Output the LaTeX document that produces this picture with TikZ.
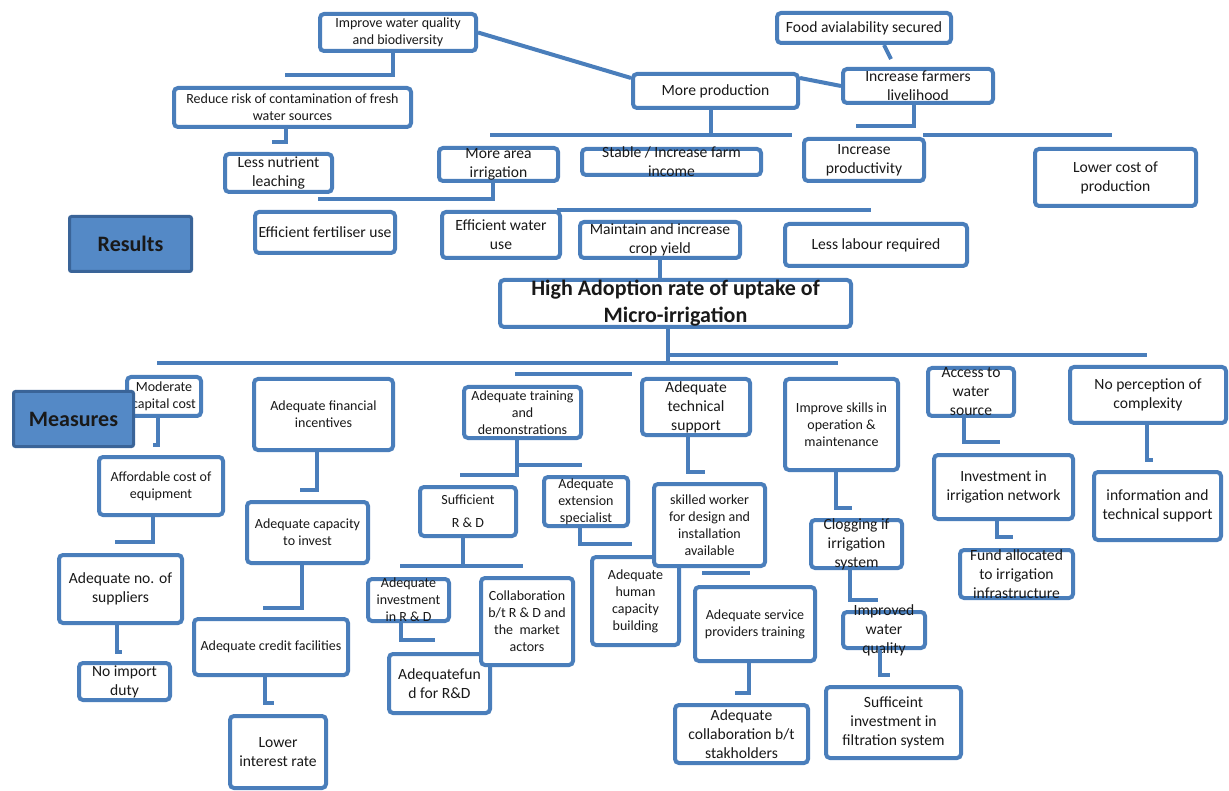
\documentclass[tikz,border=0pt]{standalone}
\usepackage{fontspec}
\setmainfont{Carlito}

\definecolor{bdr}{RGB}{74,126,187}
\definecolor{hdfill}{RGB}{84,137,198}
\definecolor{hddraw}{RGB}{58,100,152}
\definecolor{ink}{RGB}{25,25,25}

\newcommand\fsm{\fontsize{14}{17}\selectfont}
\newcommand\fmd{\fontsize{15.6}{19}\selectfont}
\newcommand\fbg{\bfseries\fontsize{22}{27}\selectfont}

\tikzset{
  box/.style={draw=bdr, line width=4pt, rounded corners=4pt, fill=white, inner sep=0pt},
  hdbox/.style={draw=hddraw, fill=hdfill, line width=3pt, rounded corners=2pt, inner sep=0pt},
  txt/.style={align=center, text=ink, inner sep=0pt, font=\fsm},
  tsm/.style={font=\fsm},
  tmd/.style={font=\fmd},
  tbg/.style={font=\fbg},
  conn/.style={draw=bdr, line width=4pt},
}

% \bx[text style]{name}{left}{top}{right}{bottom}{text}
\newcommand\bx[7][tsm]{%
  \pgfmathsetmacro\bxw{#5-#3-4}%
  \pgfmathsetmacro\bxh{#6-#4-4}%
  \node[box,minimum width=\bxw pt,minimum height=\bxh pt] (#2) at ({(#3+#5)/2},{(#4+#6)/2}) {};%
  \node[txt,#1] (#2-t) at (#2.center) {#7};%
}

\begin{document}
\begin{tikzpicture}[x=1pt,y=-1pt]
\fill[white] (0,0) rectangle (1229,791);
\useasboundingbox (0,0) rectangle (1229,791);

% ---------- results ----------
\bx{b1}{318}{12}{478}{53}{Improve water quality\\and biodiversity}
\bx{b2}{172}{86}{413}{129}{Reduce risk of contamination of fresh\\water sources}
\bx[tmd]{b3}{223}{152}{334}{194}{Less nutrient\\leaching}
\bx[tmd]{b4}{437}{146}{560}{183}{More area\\irrigation}
\bx[tmd]{b5}{580}{147}{763}{177}{Stable / Increase farm\\income}
\bx[tmd]{b6}{802}{137}{926}{183}{Increase\\productivity}
\bx[tmd]{b7}{1033}{147}{1198}{208}{Lower cost of\\production}
\bx[tmd]{b8}{631}{72}{800}{110}{More production}
\bx[tmd]{b9}{841}{67}{995}{105}{Increase farmers\\livelihood}
\bx[tmd]{b10}{775}{11}{953}{45}{Food avialability secured}
\bx[tmd]{b11}{253}{210}{397}{255}{Efficient fertiliser use}
\bx[tmd]{b12}{440}{210}{562}{260}{Efficient water\\use}
\bx[tmd]{b13}{578}{220}{742}{260}{Maintain and increase\\crop yield}
\bx[tmd]{b14}{783}{222}{969}{268}{Less labour required}
\bx[tbg]{b16}{498}{278}{853}{329}{High Adoption rate of uptake of\\Micro-irrigation}

\node[hdbox, minimum width=122pt, minimum height=55pt] (res) at (130.5,244) {};
\node[txt,tbg] (res-t) at (res.center) {Results};

% ---------- measures ----------
\bx{b18}{125}{375}{203}{418}{Moderate\\capital cost}
\bx{b19}{97}{455}{225}{517}{Affordable cost of\\equipment}
\bx[tmd]{b20}{57}{553}{184}{625}{Adequate no. of\\suppliers}
\bx[tmd]{b21}{77}{661}{172}{702}{No import\\duty}
\bx{b22}{252}{377}{395}{452}{Adequate financial\\incentives}
\bx{b23}{245}{500}{370}{565}{Adequate capacity\\to invest}
\bx{b24}{192}{617}{350}{677}{Adequate credit facilities}
\bx[tmd]{b25}{228}{714}{328}{790}{Lower\\interest rate}
\bx{b26}{462}{385}{583}{440}{Adequate training\\and\\demonstrations}
\bx{b27}{418}{485}{518}{538}{Sufficient\\[6pt]R \& D}
\bx{b28}{542}{475}{630}{528}{Adequate\\extension\\specialist}
\bx{b29}{366}{577}{451}{623}{Adequate\\investment\\in R \& D}
\bx[tmd]{b30}{387}{652}{492}{715}{Adequatefun\\d for R\&D}
\bx{b31}{479}{576}{575}{667}{Collaboration\\b/t R \& D and\\the\ \ market\\actors}
\bx{b32}{590}{555}{681}{647}{Adequate\\human\\capacity\\building}
\bx[tmd]{b33}{640}{377}{752}{437}{Adequate\\technical\\support}
\bx{b34}{652}{482}{767}{568}{skilled worker\\for design and\\installation\\available}
\bx{b35}{693}{585}{817}{663}{Adequate service\\providers training}
\bx[tmd]{b36}{673}{703}{810}{765}{Adequate\\collaboration b/t\\stakholders}
\bx{b37}{783}{377}{900}{472}{Improve skills in\\operation \&\\maintenance}
\bx[tmd]{b38}{809}{518}{904}{570}{Clogging if\\irrigation\\system}
\bx[tmd]{b39}{841}{610}{927}{650}{Improved\\water\\quality}
\bx[tmd]{b40}{824}{685}{963}{760}{Sufficeint\\investment in\\filtration system}
\bx[tmd]{b41}{926}{366}{1016}{418}{Access to\\water\\source}
\bx[tmd]{b42}{932}{453}{1075}{521}{Investment in\\irrigation network}
\bx[tmd]{b43}{958}{548}{1075}{600}{Fund allocated\\to irrigation\\infrastructure}
\bx[tmd]{b44}{1068}{365}{1228}{425}{No perception of\\complexity}
\bx[tmd]{b45}{1092}{470}{1223}{542}{information and\\technical support}

\node[hdbox, minimum width=120pt, minimum height=55pt] (mea) at (73.5,419) {};
\node[txt,tbg] (mea-t) at (mea.center) {Measures};

% ---------- connectors: results ----------
\coordinate (k1) at (285,75);
\draw[conn] ([xshift=-5pt]b1.south) |- (k1);
\coordinate (k2) at (272,142);
\draw[conn] ([xshift=-7pt]b2.south) |- (k2);
\coordinate (k3) at (318,199);
\draw[conn] ([xshift=-6pt]b4.south) |- (k3);
\coordinate (k4a) at (490,135);
\coordinate (k4b) at (792,135);
\draw[conn] (k4a) -- (k4b);
\draw[conn] ([xshift=-4.5pt]b8.south) |- (k4a);
\coordinate (k5) at (856,126);
\draw[conn] ([xshift=-4pt]b9.south) |- (k5);
\coordinate (k6a) at (923,135);
\coordinate (k6b) at (1112,135);
\draw[conn] (k6a) -- (k6b);
\draw[conn] (b1.east) -- ([yshift=-6pt]b8.north west);
\draw[conn] ([yshift=-6pt]b8.north east) -- ([yshift=-19pt]b9.north west);
\coordinate (k9) at (891,59);
\draw[conn] ([xshift=20pt]b10.south) -- (k9);
\coordinate (k7a) at (557,210);
\coordinate (k7b) at (871,210);
\draw[conn] (k7a) -- (k7b);
\draw[conn] (b13.south) -- (b13.south |- b16.north);

% ---------- connectors: hub ----------
\coordinate (h1) at (157,363);
\coordinate (h2) at (838,363);
\coordinate (h3) at (668,355);
\coordinate (h4) at (1147,355);
\draw[conn] (h1) -- (h2);
\draw[conn] (h3) -- (h4);
\draw[conn] ([xshift=-7.5pt]b16.south) |- (h1);
\coordinate (k8a) at (515,374);
\coordinate (k8b) at (632,374);
\draw[conn] (k8a) -- (k8b);

% ---------- connectors: measures ----------
\coordinate (k18) at (153,445);
\draw[conn] ([xshift=-6pt]b18.south) |- (k18);
\coordinate (k19) at (115,542);
\draw[conn] ([xshift=-8pt]b19.south) |- (k19);
\coordinate (k20) at (122,652);
\draw[conn] ([xshift=-3.5pt]b20.south) |- (k20);
\coordinate (k22) at (300,490);
\draw[conn] ([xshift=-6.5pt]b22.south) |- (k22);
\coordinate (k23) at (263,608);
\draw[conn] ([xshift=-5.5pt]b23.south) |- (k23);
\coordinate (k24) at (274,703);
\draw[conn] ([xshift=-6pt]b24.south) |- (k24);
\coordinate (k26a) at (582,465);
\coordinate (k26b) at (460,475);
\coordinate (k26c) at (517,465);
\draw[conn] ([xshift=-5.5pt]b26.south) |- (k26b);
\draw[conn] (k26c) -- (k26a);
\coordinate (k28) at (632,544);
\draw[conn] ([xshift=-6pt]b28.south) |- (k28);
\coordinate (k27a) at (400,566);
\coordinate (k27b) at (523,566);
\draw[conn] (k27a) -- (k27b);
\draw[conn] ([xshift=-5pt]b27.south) |- (k27a);
\coordinate (k29) at (435,640);
\draw[conn] ([xshift=-7.5pt]b29.south) |- (k29);
\coordinate (k33) at (705,472);
\draw[conn] ([xshift=-8pt]b33.south) |- (k33);
\coordinate (k34a) at (702,573);
\coordinate (k34b) at (750,573);
\draw[conn] (k34a) -- (k34b);
\coordinate (k35) at (735,693);
\draw[conn] ([xshift=-6pt]b35.south) |- (k35);
\coordinate (k37) at (852,508);
\draw[conn] ([xshift=-5.5pt]b37.south) |- (k37);
\coordinate (k38) at (878,600);
\draw[conn] ([xshift=-6.5pt]b38.south) |- (k38);
\coordinate (k39) at (890,675);
\draw[conn] ([xshift=-4pt]b39.south) |- (k39);
\coordinate (k41) at (1000,442);
\draw[conn] ([xshift=-7pt]b41.south) |- (k41);
\coordinate (k42) at (1013,537);
\draw[conn] ([xshift=-6.5pt]b42.south) |- (k42);
\coordinate (k44) at (1153,460);
\draw[conn] ([xshift=-1pt]b44.south) |- (k44);
\end{tikzpicture}
\end{document}
